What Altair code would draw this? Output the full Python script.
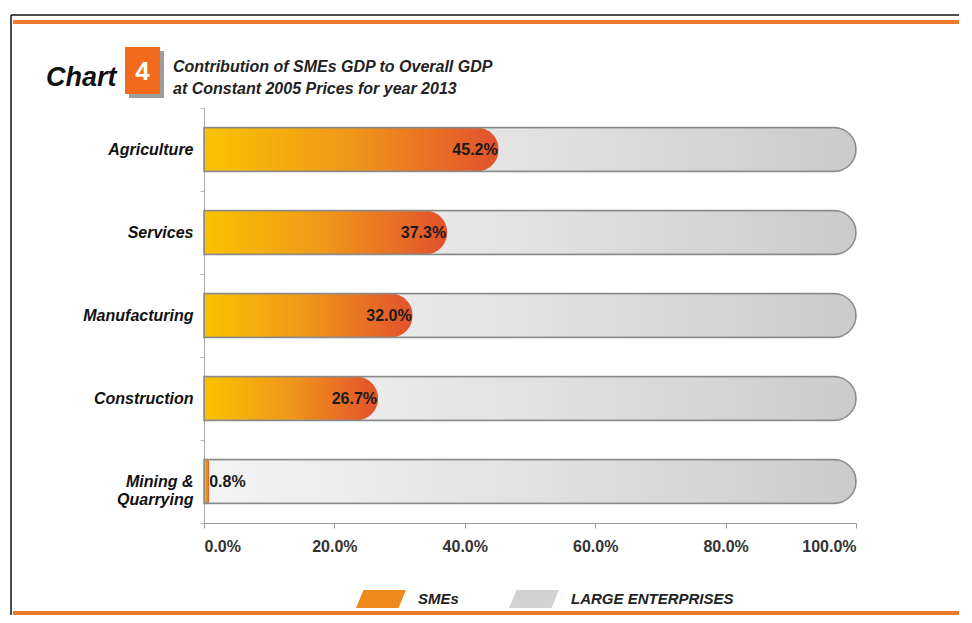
import altair as alt
import pandas as pd

# ---- data ----
sectors = ["Agriculture", "Services", "Manufacturing", "Construction", "Mining & Quarrying"]
sme_share = [45.2, 37.3, 32.0, 26.7, 0.8]
large_share = [54.8, 62.7, 68.0, 73.3, 99.2]
x_ticks = [0, 20, 40, 60, 80, 100]
legend_names = ["SMEs", "LARGE ENTERPRISES"]
legend_colors = ["#ee8a1c", "#d2d2d2"]
title_lines = ["Contribution of SMEs GDP to Overall GDP", "at Constant 2005 Prices for year 2013"]

df = pd.DataFrame({"sector": sectors, "sme": sme_share, "large": large_share})
one = pd.DataFrame({"k": [0]})

FONT = "Liberation Sans"
W, H = 652, 415
BAR = 44

orange_grad = alt.LinearGradient(
    gradient="linear", x1=0, x2=1, y1=0, y2=0,
    stops=[alt.GradientStop(color="#f9c300", offset=0),
           alt.GradientStop(color="#f0961a", offset=0.5),
           alt.GradientStop(color="#e2512d", offset=1)])
gray_grad = alt.LinearGradient(
    gradient="linear", x1=0, x2=1, y1=0, y2=0,
    stops=[alt.GradientStop(color="#f4f4f4", offset=0),
           alt.GradientStop(color="#e2e2e2", offset=0.5),
           alt.GradientStop(color="#cbcbcb", offset=1)])

x_scale = alt.Scale(domain=[0, 100], nice=False, zero=True)
x_axis = alt.Axis(values=x_ticks, labelExpr="format(datum.value/100, '.1%')", title=None,
                  grid=False, domainColor="#9a9a9a", tickColor="#9a9a9a", tickSize=5,
                  labelFont=FONT, labelFontSize=16, labelFontWeight="bold", labelColor="#333333",
                  labelPadding=10)
y_axis = alt.Axis(title=None, tickBand="extent", tickSize=4, tickColor="#b5b5b5",
                  domainColor="#a8a8a8", labelFont=FONT, labelFontSize=16,
                  labelFontWeight="bold", labelFontStyle="italic", labelColor="#111111",
                  labelPadding=7, labelLineHeight=18,
                  labelExpr="datum.label == 'Mining & Quarrying' ? ['Mining  &', 'Quarrying'] : datum.label")

base = alt.Chart(df).encode(
    y=alt.Y("sector:N", sort=sectors, scale=alt.Scale(paddingInner=0, paddingOuter=0), axis=y_axis)
)

gray = base.transform_calculate(total="datum.sme + datum.large").mark_bar(
    size=BAR, cornerRadiusEnd=BAR / 2, color=gray_grad
).encode(x=alt.X("total:Q", scale=x_scale, axis=x_axis))

orange = base.mark_bar(size=BAR, cornerRadiusEnd=BAR / 2, color=orange_grad).encode(
    x=alt.X("sme:Q", scale=x_scale, axis=x_axis))

outline = base.transform_calculate(total="datum.sme + datum.large").mark_bar(
    size=BAR, cornerRadiusEnd=BAR / 2, fillOpacity=0, stroke="#8a8a8a", strokeWidth=1.5
).encode(x=alt.X("total:Q", scale=x_scale, axis=x_axis))

lab_in = base.transform_filter("datum.sme >= 5").transform_calculate(
    lbl="format(datum.sme, '.1f') + '%'"
).mark_text(align="right", dx=-1, font=FONT, fontSize=16, fontWeight="bold", color="#1a1a1a").encode(
    x=alt.X("sme:Q", scale=x_scale, axis=x_axis), text="lbl:N")

lab_out = base.transform_filter("datum.sme < 5").transform_calculate(
    lbl="format(datum.sme, '.1f') + '%'"
).mark_text(align="left", dx=0, font=FONT, fontSize=16, fontWeight="bold", color="#1a1a1a").encode(
    x=alt.X("sme:Q", scale=x_scale, axis=x_axis), text="lbl:N")

PATH = "M-1,0.36L-0.7,-0.36L1,-0.36L0.7,0.36Z"
leg = alt.Chart(pd.DataFrame({"series": legend_names})).mark_point(
    opacity=0, filled=True
).encode(
    x=alt.value(0), y=alt.value(0),
    color=alt.Color("series:N", scale=alt.Scale(domain=legend_names, range=legend_colors),
                    legend=alt.Legend(orient="none", legendX=152, legendY=466, direction="horizontal",
                                      title=None, symbolType=PATH, symbolSize=2500, symbolOpacity=1,
                                      symbolStrokeWidth=0, labelFont=FONT, labelFontSize=15,
                                      labelFontWeight="bold", labelFontStyle="italic",
                                      labelColor="#222222", labelOffset=12, columnPadding=50,
                                      labelLimit=400, padding=0))
)

# ---- decorations (frame, header) ----
frame_left = alt.Chart(one).mark_rule(color="#111111", strokeWidth=1.5).encode(
    x=alt.value(-193), y=alt.value(-93), y2=alt.value(507))
frame_top = alt.Chart(one).mark_rule(color="#111111", strokeWidth=1.5).encode(
    x=alt.value(-193), x2=alt.value(755), y=alt.value(-93))
orange_top = alt.Chart(one).mark_rule(color="#ea7a2c", strokeWidth=4).encode(
    x=alt.value(-191), x2=alt.value(755), y=alt.value(-86))
orange_bottom = alt.Chart(one).mark_rule(color="#ea7a2c", strokeWidth=4).encode(
    x=alt.value(-191), x2=alt.value(755), y=alt.value(505))

chart_word = alt.Chart(one).mark_text(
    text="Chart", font=FONT, fontSize=27, fontWeight="bold", fontStyle="italic",
    align="left", baseline="alphabetic", color="#111111").encode(x=alt.value(-158), y=alt.value(-22))
box_shadow = alt.Chart(one).mark_rect(color="#9c9c9c").encode(
    x=alt.value(-75), x2=alt.value(-40), y=alt.value(-57), y2=alt.value(-10))
box = alt.Chart(one).mark_rect(color="#f26a1b").encode(
    x=alt.value(-79), x2=alt.value(-44), y=alt.value(-61), y2=alt.value(-14))
box_num = alt.Chart(one).mark_text(
    text="4", font=FONT, fontSize=26, fontWeight="bold", align="center", baseline="alphabetic",
    color="#ffffff").encode(x=alt.value(-61.5), y=alt.value(-28))
t1 = alt.Chart(one).mark_text(
    text=title_lines[0], font=FONT, fontSize=16, fontWeight="bold", fontStyle="italic",
    align="left", baseline="alphabetic", color="#222222").encode(x=alt.value(-31), y=alt.value(-36))
t2 = alt.Chart(one).mark_text(
    text=title_lines[1], font=FONT, fontSize=16, fontWeight="bold", fontStyle="italic",
    align="left", baseline="alphabetic", color="#222222").encode(x=alt.value(-31), y=alt.value(-14))

chart = alt.layer(
    gray, orange, outline, lab_in, lab_out, leg,
    frame_left, frame_top, orange_top, orange_bottom,
    chart_word, box_shadow, box, box_num, t1, t2
).properties(
    width=W, height=H, padding={"left": 2, "top": 6, "right": 0, "bottom": 0}
).configure_view(strokeWidth=0)

chart.save("out.html", embed_options={"renderer": "svg", "actions": False})
